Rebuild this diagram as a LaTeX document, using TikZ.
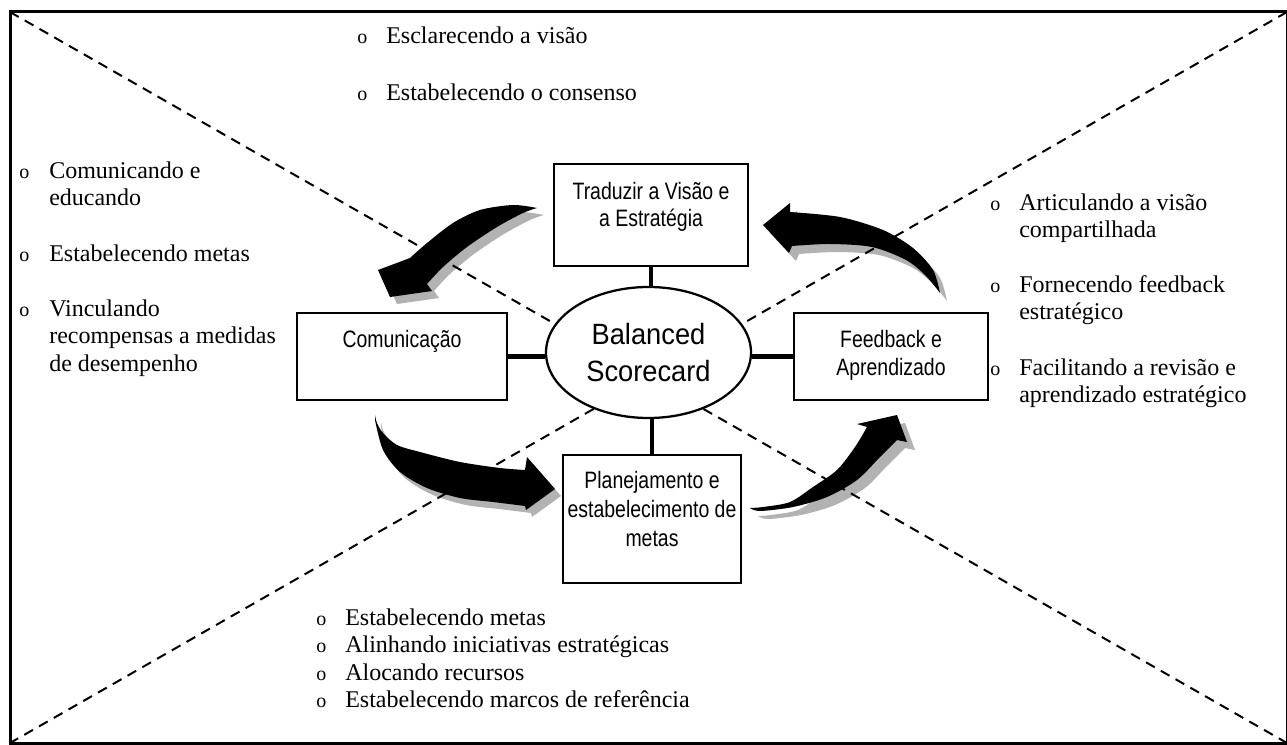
\documentclass[tikz,border=0pt]{standalone}
\usepackage{fontspec}
\usetikzlibrary{shapes.geometric}
\setmainfont{Liberation Serif}
\newfontfamily\boxfont[FakeStretch=0.82]{Liberation Sans}
\newfontfamily\bscfont[FakeStretch=0.93]{Liberation Sans}
\definecolor{shadowgray}{RGB}{178,178,178}
\newcommand\arrowTL[1]{\fill[#1] plot[smooth] coordinates {(537,208) (513,205) (480,210) (453,223) (427,243) (410,258)} -- (378,270) -- (390,297) -- (432,291) -- plot[smooth] coordinates {(427,284) (443,267) (467,247) (497,227) (523,213) (537,208)} -- cycle;}
\newcommand\arrowTR[1]{\fill[#1] plot[smooth] coordinates {(790,212) (840,217) (883,230) (913,248) (933,270) (940,293)} -- plot[smooth] coordinates {(940,293) (926,276) (906,260) (872,247) (830,244) (792,246)} -- (789,253) -- (763,225) -- (790,203) -- cycle;}
\newcommand\arrowBL[1]{\fill[#1] plot[smooth] coordinates {(375,415) (377,423) (383,433) (397,445) (420,452) (460,462) (500,468) (525,470)} -- (527,457) -- (555,489) -- (526,510) -- plot[smooth] coordinates {(525,506) (493,502) (460,498) (427,488) (400,472) (383,450) (375,420)} -- cycle;}
\newcommand\arrowBR[1]{\fill[#1] plot[smooth] coordinates {(750,508) (763,507) (790,502) (813,487) (837,470) (855,447) (867,427)} -- (857,424) -- (897,415) -- (907,442) -- plot[smooth] coordinates {(897,440) (880,457) (857,480) (827,497) (793,507) (760,511) (750,508)} -- cycle;}
\begin{document}
\begin{tikzpicture}[x=0.75pt,y=-0.75pt,
  frame/.style={line width=2.25pt},
  diag/.style={line width=1.5pt, dash pattern=on 7.5pt off 5.25pt},
  box/.style={draw, line width=2pt, fill=white, inner sep=0pt, font=\boxfont\fontsize{17.8}{21}\selectfont},
  ell/.style={draw, ellipse, line width=1.7pt, fill=white, inner sep=0pt, align=center,
    minimum width=153.75pt, minimum height=98.25pt, font=\bscfont\fontsize{22}{27.75}\selectfont},
  conn/.style={line width=3.25pt},
  txt/.style={anchor=base west, inner sep=0pt, font=\fontsize{18}{20.7}\selectfont},
  bul/.style={anchor=base west, inner sep=0pt, font=\fontsize{15}{18}\selectfont}]
\useasboundingbox (0,0) rectangle (1287,745);
\coordinate (ftl) at (10,12);
\coordinate (ftr) at (1287,12);
\coordinate (fbl) at (10,743);
\coordinate (fbr) at (1287,743);
\draw[frame] (ftl) rectangle (1287.5,743);
% curved block arrows with shadows
\arrowTL{shadowgray, shift={(7,7)}}
\arrowTR{shadowgray, shift={(7,8)}}
\arrowBL{shadowgray, shift={(6,7)}}
\arrowBR{shadowgray, shift={(8,8)}}
\arrowTL{black}
\arrowTR{black}
\arrowBL{black}
\arrowBR{black}
% diagonals
\draw[diag] (ftl) -- (fbr);
\draw[diag] (ftr) -- (fbl);
% boxes
\node[box] (trad) at (651,215) {\parbox[c][76.5pt][t]{145.5pt}{\centering\baselineskip=20.25pt\rule{0pt}{27pt}Traduzir a Visão e\\a Estratégia}};
\node[box] (com) at (402,356.5) {\parbox[c][65.25pt][t]{157.5pt}{\centering\rule{0pt}{25.5pt}Comunicação}};
\node[box] (feed) at (891,356.5) {\parbox[c][65.25pt][t]{145.5pt}{\centering\baselineskip=21pt\rule{0pt}{25.5pt}Feedback e\\Aprendizado}};
\node[box] (plan) at (652,519) {\parbox[c][96pt][t]{133.5pt}{\centering\baselineskip=21.75pt\rule{0pt}{24.75pt}Planejamento e\\estabelecimento de\\metas}};
\node[ell] (bsc) at (648.5,352.5) {Balanced\\Scorecard};
% connectors
\draw[conn] (trad.south) -- (trad.south |- bsc.north);
\draw[conn] (com.east) -- (com.east -| bsc.west);
\draw[conn] (feed.west) -- (feed.west -| bsc.east);
\draw[conn] (plan.north) -- (plan.north |- bsc.south);
% top list
\node[bul] (tb1) at (357,44) {o};
\node[txt] (t1) at (386,44) {Esclarecendo a visão};
\node[bul] (tb2) at (357,101) {o};
\node[txt] (t2) at (386,101) {Estabelecendo o consenso};
% left list
\node[bul] (lb1) at (19,179) {o};
\node[txt] (l1a) at (49,179) {Comunicando e};
\node[txt] (l1b) at (49,206) {educando};
\node[bul] (lb2) at (19,261) {o};
\node[txt] (l2) at (49,261) {Estabelecendo metas};
\node[bul] (lb3) at (19,316) {o};
\node[txt] (l3a) at (49,316) {Vinculando};
\node[txt] (l3b) at (49,343) {recompensas a medidas};
\node[txt] (l3c) at (49,371) {de desempenho};
% right list
\node[bul] (rb1) at (990,211) {o};
\node[txt] (r1a) at (1019,211) {Articulando a visão};
\node[txt] (r1b) at (1019,238) {compartilhada};
\node[bul] (rb2) at (990,292) {o};
\node[txt] (r2a) at (1019,292) {Fornecendo feedback};
\node[txt] (r2b) at (1019,319) {estratégico};
\node[bul] (rb3) at (990,375) {o};
\node[txt] (r3a) at (1019,375) {Facilitando a revisão e};
\node[txt] (r3b) at (1019,402) {aprendizado estratégico};
% bottom list
\node[bul] (bb1) at (316,625) {o};
\node[txt] (b1) at (345,625) {Estabelecendo metas};
\node[bul] (bb2) at (316,652.5) {o};
\node[txt] (b2) at (345,652.5) {Alinhando iniciativas estratégicas};
\node[bul] (bb3) at (316,680) {o};
\node[txt] (b3) at (345,680) {Alocando recursos};
\node[bul] (bb4) at (316,707) {o};
\node[txt] (b4) at (345,707) {Estabelecendo marcos de referência};
\end{tikzpicture}
\end{document}
